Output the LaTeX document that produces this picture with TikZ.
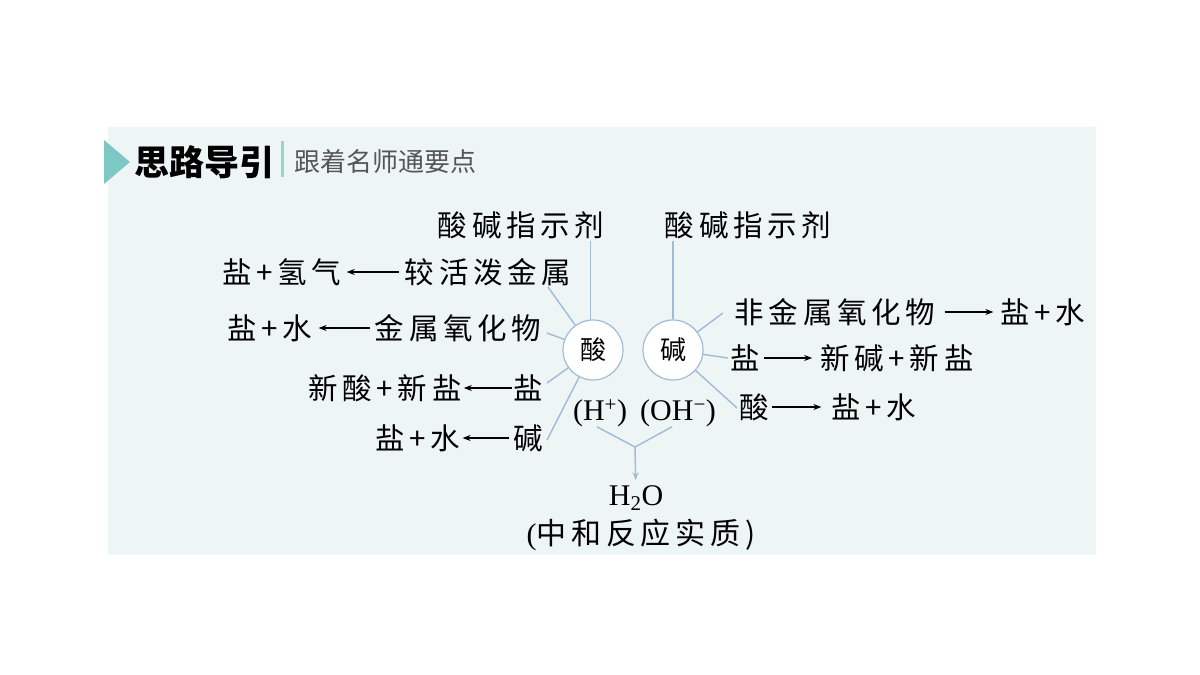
\documentclass[tikz,border=0pt]{standalone}
\usepackage{fontspec}
\setmainfont{Liberation Serif}
\newfontfamily\cjk[LetterSpace=16]{Noto Sans CJK SC}
\newfontfamily\cjkhead{Noto Sans CJK SC}
\usetikzlibrary{arrows.meta}

\definecolor{panel}{RGB}{238,246,245}
\definecolor{linkblue}{RGB}{160,186,215}
\definecolor{headteal}{RGB}{125,200,196}
\definecolor{headgray}{RGB}{85,85,85}

\begin{document}
\begin{tikzpicture}[x=1pt,y=-1pt,
  txt/.style={inner sep=0pt, font=\fontsize{29.5}{32}\selectfont\cjk},
  ion/.style={inner sep=0pt, font=\fontsize{30}{32}\selectfont},
  ball/.style={circle, draw=linkblue, line width=1.2pt, fill=white,
    minimum size=60pt, inner sep=0pt, font=\fontsize{26}{28}\selectfont\cjkhead},
  link/.style={linkblue, line width=1.4pt},
  arr/.style={-{Stealth[length=8pt,width=6pt]}, line width=1.2pt}]

% Background
\useasboundingbox (0,0) rectangle (1200,675);
\fill[white] (0,0) rectangle (1200,675);
\fill[panel] (108,127) rectangle (1096,555);

% Header
\fill[headteal] (104,140) -- (130,162) -- (104,184) -- cycle;
\node[inner sep=0pt, font=\fontsize{35}{37}\selectfont\cjkhead\bfseries] (title) at (204,162) {思路导引};
\fill[headteal!80] (281,141) rectangle (284,177);
\node[inner sep=0pt, text=headgray, font=\fontsize{26}{28}\selectfont\cjkhead] (subtitle) at (385,162) {跟着名师通要点};

% Acid and base
\node[ball] (acid) at (593,350) {酸};
\node[ball] (base) at (673,350) {碱};

% Reactions of the acid
\node[txt] (indA) at (521,225) {酸碱指示剂};
\node[txt] (metal) at (488,272) {较活泼金属};
\node[txt] (hydro) at (282,272) {盐+氢气};
\node[txt] (moxide) at (458,328) {金属氧化物};
\node[txt] (waterA) at (270,328) {盐+水};
\node[txt] (saltA) at (528,388) {盐};
\node[txt] (newA) at (385,388) {新酸+新盐};
\node[txt] (baseA) at (528,438) {碱};
\node[txt] (waterB) at (418,438) {盐+水};

\draw[arr, shorten <=6pt, shorten >=5pt] (metal) -- (hydro);
\draw[arr, shorten <=5pt, shorten >=6pt] (moxide) -- (waterA);
\draw[arr, shorten <=1pt, shorten >=2pt] (saltA) -- (newA);
\draw[arr, shorten <=4pt, shorten >=2pt] (baseA) -- (waterB);

\coordinate (a2) at (548,287);
\coordinate (a3) at (547,333);
\coordinate (a4) at (547,383);
\coordinate (a5) at (547,440);
\draw[link, shorten >=2pt] (acid.95) -- (acid.95 |- indA.south);
\draw[link] (a2) -- (acid);
\draw[link] (a3) -- (acid);
\draw[link] (a4) -- (acid);
\draw[link] (a5) -- (acid);

% Reactions of the base
\node[txt] (indB) at (748,225) {酸碱指示剂};
\node[txt] (noxide) at (835,312) {非金属氧化物};
\node[txt] (waterC) at (1043,312) {盐+水};
\node[txt] (saltB) at (745,358) {盐};
\node[txt] (newB) at (897,358) {新碱+新盐};
\node[txt] (acidB) at (754,407) {酸};
\node[txt] (waterD) at (874,407) {盐+水};

\draw[arr, shorten <=9pt, shorten >=7pt] (noxide) -- (waterC);
\draw[arr, shorten <=4pt, shorten >=8pt] (saltB) -- (newB);
\draw[arr, shorten <=3pt, shorten >=10pt] (acidB) -- (waterD);

\coordinate (b2) at (723,313);
\coordinate (b3) at (728,358);
\coordinate (b4) at (737,408);
\draw[link, shorten >=2pt] (base.north) -- (base.north |- indB.south);
\draw[link] (b2) -- (base);
\draw[link] (b3) -- (base);
\draw[link] (b4) -- (base);

% Neutralisation
\node[ion] (hion) at (600,413) {(H\textsuperscript{+})};
\node[ion] (ohion) at (678,413) {(OH\textsuperscript{−})};
\coordinate (fork) at (635,447);
\node[ion] (water) at (636,498) {H\textsubscript{2}O};
\node[ion] (essence) at (641,535) {(\cjk 中和反应实质)};

\draw[link] ([xshift=-3pt]hion.south) -- (fork) -- ([xshift=-6pt]ohion.south);
\draw[link, -{Stealth[length=8pt,width=6pt]}, shorten >=5pt] (fork) -- (water);

\end{tikzpicture}
\end{document}
